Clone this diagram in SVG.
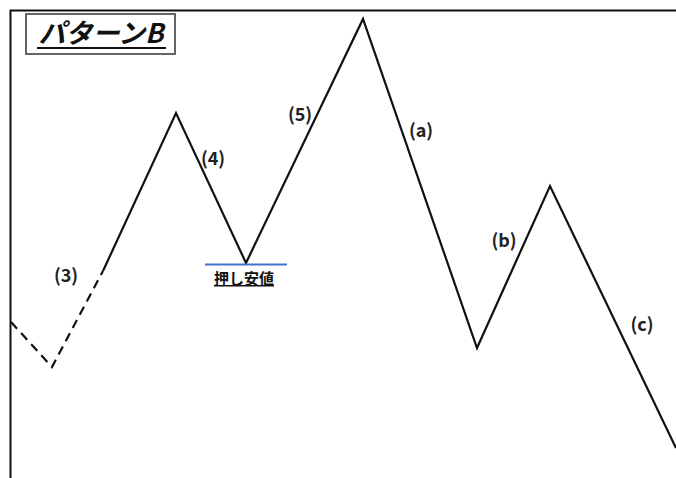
<svg xmlns="http://www.w3.org/2000/svg" width="676" height="478" viewBox="0 0 676 478">
<style>
.lbl{font-family:"Noto Sans CJK JP","Liberation Sans",sans-serif;font-size:18px;font-weight:bold;fill:#222;text-anchor:middle}
.wave{fill:none;stroke:#111;stroke-width:2.2;stroke-linejoin:miter}
</style>
<rect width="676" height="478" fill="#fff"/>
<g id="frame">
<path d="M10.5,478 V10.5 H676" fill="none" stroke="#111" stroke-width="2"/>
</g>
<g id="title">
<rect x="26" y="14" width="149" height="40" fill="#fff" stroke="#555" stroke-width="1.8"/>
<text x="101" y="43" font-family="Noto Sans CJK JP,Liberation Sans,sans-serif" font-size="27" font-weight="bold" font-style="italic" text-anchor="middle" fill="#111">パターンB</text>
<line x1="37" y1="48" x2="166" y2="48" stroke="#111" stroke-width="2"/>
</g>
<g id="connectors">
<polyline class="wave" stroke-dasharray="9,6" points="11,322 52,367 103,271"/>
<polyline class="wave" points="103,271 176,113 246,263 363,19 477,348 550,186 676,448"/>
<line x1="205" y1="264.5" x2="287" y2="264.5" stroke="#4472c4" stroke-width="2"/>
</g>
<g id="labels">
<text class="lbl" x="66" y="282">(3)</text>
<text class="lbl" x="213" y="165">(4)</text>
<text class="lbl" x="300" y="121">(5)</text>
<text class="lbl" x="421" y="137">(a)</text>
<text class="lbl" x="504" y="247">(b)</text>
<text class="lbl" x="642" y="331">(c)</text>
</g>
<g id="oshiyasune">
<text x="244" y="284" font-family="Noto Sans CJK JP,sans-serif" font-size="15" font-weight="bold" text-anchor="middle" fill="#111" text-decoration="underline">押し安値</text>
</g>
</svg>
